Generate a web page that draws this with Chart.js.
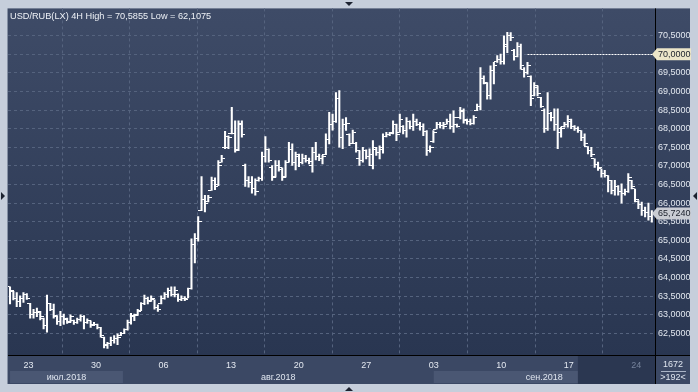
<!DOCTYPE html>
<html><head><meta charset="utf-8">
<script src="https://cdn.jsdelivr.net/npm/chart.js@4.4.1/dist/chart.umd.min.js"></script>
<style>html,body{margin:0;padding:0;background:#c6cedb;overflow:hidden}canvas{display:block}</style>
</head><body>
<canvas id="c" width="698" height="392"></canvas>
<script>
// ---- data: USD/RUB(LX) 4H bars (open, high, low, close) ----
const opens = [63.75,63.62,63.45,63.35,63.45,63.55,63.31,63.00,63.05,63.05,62.90,62.70,63.30,63.15,62.95,62.82,62.95,62.88,62.82,62.86,62.78,62.88,62.95,62.80,62.84,62.74,62.75,62.65,62.40,62.18,62.22,62.30,62.35,62.45,62.50,62.60,62.80,62.95,63.00,63.12,63.30,63.45,63.38,63.40,63.20,63.30,63.45,63.55,63.65,63.55,63.55,63.40,63.44,63.45,63.70,64.90,65.05,65.80,66.10,66.05,66.35,66.60,66.50,67.10,67.50,67.50,67.86,67.88,67.45,68.15,67.00,66.60,66.55,66.40,66.60,66.65,67.25,67.45,66.95,66.72,67.00,66.90,66.72,67.10,67.45,67.10,67.25,67.10,67.20,67.15,67.00,67.35,67.25,67.20,67.30,67.70,68.10,68.20,68.80,67.75,68.10,67.85,67.60,67.60,67.20,67.15,67.40,67.25,67.00,67.45,67.35,67.45,67.80,67.85,67.90,68.10,67.90,68.05,67.95,68.20,68.05,68.20,68.12,68.05,67.92,67.40,67.65,67.99,68.10,68.08,68.12,68.20,68.05,68.10,68.30,68.45,68.22,68.18,68.15,68.50,68.60,69.35,69.22,68.90,69.55,69.80,69.85,69.80,70.20,70.50,70.10,69.95,70.20,69.60,69.50,69.40,68.90,69.10,68.84,68.50,68.00,68.40,68.30,68.10,67.90,68.05,68.10,68.20,68.05,68.00,67.95,67.75,67.52,67.40,67.19,67.05,66.92,66.80,66.74,66.60,66.35,66.45,66.30,66.25,66.30,66.60,66.38,66.05,65.95,65.80,65.75,65.65];
const highs = [63.75,63.63,63.60,63.51,63.60,63.57,63.31,63.15,63.18,63.09,62.91,63.53,63.31,63.29,62.98,63.09,63.02,62.91,63.00,62.86,62.91,63.00,62.98,62.89,62.84,62.80,62.75,62.66,62.40,62.26,62.40,62.44,62.49,62.53,62.62,62.86,63.04,63.02,63.15,63.33,63.53,63.47,63.51,63.40,63.27,63.51,63.60,63.72,63.75,63.75,63.56,63.51,63.49,63.72,65.04,65.18,65.64,66.71,66.21,66.21,66.70,66.68,67.14,67.28,67.93,67.81,68.57,68.21,68.21,68.21,67.05,66.71,66.71,66.65,66.70,67.37,67.79,67.46,67.01,67.14,67.14,66.95,67.14,67.63,67.59,67.37,67.32,67.32,67.28,67.21,67.50,67.63,67.32,67.28,67.86,68.44,68.39,68.97,69.02,68.26,68.30,67.86,67.96,67.63,67.41,67.50,67.43,67.46,67.68,67.50,67.54,67.86,67.90,67.90,68.21,68.12,68.39,68.08,68.30,68.21,68.39,68.26,68.17,68.13,67.95,67.54,67.95,68.17,68.17,68.17,68.26,68.39,68.48,68.12,68.57,68.53,68.26,68.26,68.35,68.66,69.64,69.42,69.24,69.69,69.78,69.96,70.00,70.49,70.59,70.58,70.13,70.31,70.27,69.64,69.78,69.42,69.24,69.15,68.84,68.53,68.97,68.44,68.53,68.53,68.04,68.17,68.35,68.26,68.08,68.05,67.95,67.86,67.52,67.50,67.19,67.10,66.92,66.88,66.74,66.61,66.61,66.47,66.52,66.38,66.79,66.61,66.38,66.07,66.03,65.89,66.00,65.80];
const lows = [63.29,63.40,63.22,63.22,63.33,63.41,62.91,62.91,62.95,62.86,62.62,62.53,63.11,62.91,62.74,62.71,62.74,62.77,62.80,62.74,62.77,62.83,62.62,62.77,62.66,62.71,62.62,62.40,62.11,62.10,62.17,62.24,62.20,62.44,62.49,62.59,62.75,62.84,62.98,63.11,63.27,63.29,63.36,63.15,63.09,63.29,63.42,63.47,63.51,63.48,63.36,63.38,63.38,63.45,63.69,64.39,64.98,65.80,65.76,66.03,66.34,66.36,66.47,67.10,67.46,67.46,67.86,67.37,67.41,67.77,66.45,66.43,66.27,66.21,66.59,66.61,67.10,67.10,66.61,66.70,66.86,66.61,66.70,67.10,67.01,66.89,66.98,67.05,67.10,67.05,66.83,67.16,67.14,67.05,67.30,67.59,67.96,68.17,67.50,67.46,67.95,67.54,67.60,67.37,67.01,67.10,67.19,67.01,66.92,67.28,67.19,67.34,67.78,67.81,67.86,67.68,67.90,67.86,67.77,67.99,67.95,68.08,67.96,67.81,67.28,67.37,67.63,67.99,68.02,67.99,68.12,67.99,67.90,68.04,68.26,68.15,68.12,68.10,68.12,68.48,68.50,69.20,68.79,68.79,69.20,69.78,69.73,69.73,70.04,70.36,69.84,69.93,69.60,69.38,69.46,68.62,68.88,68.88,68.57,67.90,67.95,68.21,67.95,67.46,67.77,68.04,68.04,68.00,67.95,67.90,67.68,67.54,67.32,67.25,66.96,66.88,66.70,66.70,66.30,66.25,66.21,66.21,66.00,66.21,66.29,66.38,66.03,65.85,65.67,65.63,65.54,65.49];
const closes = [63.65,63.45,63.35,63.45,63.55,63.45,63.00,63.05,63.10,62.95,62.70,63.30,63.15,62.98,62.82,62.95,62.90,62.80,62.95,62.78,62.88,62.95,62.80,62.85,62.72,62.75,62.65,62.45,62.20,62.22,62.30,62.35,62.40,62.50,62.60,62.80,62.98,62.98,63.10,63.30,63.45,63.35,63.45,63.20,63.15,63.45,63.55,63.65,63.55,63.65,63.40,63.45,63.42,63.70,64.90,65.05,65.50,66.10,66.00,66.15,66.60,66.45,67.00,67.20,67.80,67.75,67.88,67.40,68.10,67.85,66.60,66.55,66.40,66.30,66.65,67.25,67.45,67.15,66.70,67.00,66.95,66.70,67.10,67.45,67.10,67.30,67.10,67.20,67.15,67.12,67.35,67.25,67.20,67.25,67.70,68.10,68.20,68.80,67.75,68.10,68.15,67.60,67.90,67.40,67.15,67.40,67.25,67.30,67.50,67.35,67.50,67.80,67.85,67.88,68.10,67.85,68.25,67.95,68.20,68.05,68.20,68.12,68.05,67.92,67.40,67.50,67.90,68.10,68.08,68.05,68.20,68.05,68.30,68.06,68.50,68.25,68.18,68.15,68.30,68.60,69.35,69.25,68.90,69.55,69.70,69.85,69.80,70.25,70.50,70.45,69.95,70.20,69.70,69.50,69.70,68.80,69.15,68.95,68.60,68.00,68.40,68.30,68.10,68.00,68.00,68.10,68.25,68.05,68.00,67.95,67.75,67.60,67.40,67.30,67.05,66.95,66.80,66.75,66.60,66.35,66.45,66.30,66.25,66.30,66.70,66.45,66.10,65.95,65.80,65.75,65.65,65.724];

const weekLabels = ["23","30","06","13","20","27","03","10","17","24"];
const weekStarts = [5.5,25.6,45.7,65.8,85.9,106,126.1,146.2,166.3,186.4];
const monthLabels = ["июл.2018","авг.2018","сен.2018"];
const monthStarts = [0,33.6,126.1,192];
const priceTicks = [62.5,63,63.5,64,64.5,65,65.5,66,66.5,67,67.5,68,68.5,69,69.5,70,70.5];
const titleText = "USD/RUB(LX) 4H High = 70,5855 Low = 62,1075";
const alertLevel = 70.0, alertFrom = 154;
const lastPrice = 65.724;
const barCountText = "1672", visibleText = ">192<";
const fadedFrom = 169;

// ---- derived datasets ----
const idx = highs.map((_, i) => i);
const hlData = idx.map(i => ({x: i, y: [lows[i], highs[i]]}));
const openData = idx.map(i => ({x: i, y: opens[i]}));
const closeData = idx.map(i => ({x: i, y: closes[i]}));

function tickImg(left) {
  const c = document.createElement('canvas'); c.width = 7; c.height = 1;
  const g = c.getContext('2d'); g.fillStyle = '#ffffff';
  g.fillRect(left ? 0 : 4, 0, 3, 1);
  return c;
}
const fmt = v => v.toFixed(4).replace('.', ',');
const FONT = '"Liberation Sans", Arial, sans-serif';

const decor = {
  id: 'decor',
  beforeDraw(chart) {
    const {ctx, chartArea: a, scales: {x}} = chart;
    ctx.save();
    ctx.fillStyle = '#c6cedb'; ctx.fillRect(0, 0, 698, 392);
    const g = ctx.createLinearGradient(0, a.top, 0, a.bottom);
    g.addColorStop(0, '#3e4b67'); g.addColorStop(1, '#293651');
    ctx.fillStyle = g; ctx.fillRect(8, a.top, 682, a.bottom - a.top);
    ctx.fillStyle = '#3b4864'; ctx.fillRect(8, a.bottom, 682, 29);
    // month bands
    const bandTop = a.bottom + 16, bandH = 12;
    ctx.fillStyle = '#4a5773';
    [0, 2].forEach(m => {
      const x0 = x.getPixelForValue(monthStarts[m]);
      const x1 = Math.min(a.right, x.getPixelForValue(monthStarts[m + 1]));
      ctx.fillRect(x0, bandTop, x1 - x0, bandH);
    });
    ctx.fillStyle = '#2b3751';
    const fx = x.getPixelForValue(fadedFrom);
    ctx.fillRect(fx, a.bottom + 1, a.right - fx, 28);
    ctx.fillStyle = '#dfe5ef'; ctx.font = '9px ' + FONT;
    ctx.textAlign = 'center'; ctx.textBaseline = 'middle';
    monthLabels.forEach((t, m) => {
      const x0 = x.getPixelForValue(monthStarts[m]);
      const x1 = Math.min(a.right, x.getPixelForValue(monthStarts[m + 1]));
      ctx.fillText(t, (x0 + x1) / 2, bandTop + bandH / 2 + 0.5);
    });
    ctx.fillText(barCountText, 673, a.bottom + 9.5);
    ctx.fillText(visibleText, 673, a.bottom + 22.5);
    ctx.strokeStyle = '#aab4c6'; ctx.lineWidth = 1;
    ctx.beginPath(); ctx.moveTo(661, a.bottom + 16.5); ctx.lineTo(686, a.bottom + 16.5); ctx.stroke();
    ctx.restore();
  },
  afterDraw(chart) {
    const {ctx, chartArea: a, scales: {x, y}} = chart;
    ctx.save();
    ctx.strokeStyle = '#000'; ctx.lineWidth = 1;
    ctx.beginPath();
    ctx.moveTo(a.right + 0.5, a.top); ctx.lineTo(a.right + 0.5, a.bottom + 29);
    ctx.moveTo(8, a.bottom + 0.5); ctx.lineTo(690, a.bottom + 0.5);
    ctx.stroke();
    ctx.strokeStyle = '#8590a4';
    ctx.beginPath(); ctx.moveTo(7.5, a.top); ctx.lineTo(7.5, a.bottom + 29); ctx.stroke();
    // title
    ctx.fillStyle = '#eef1f6'; ctx.font = '9.2px ' + FONT;
    ctx.textAlign = 'left'; ctx.textBaseline = 'middle';
    ctx.fillText(titleText, 10, a.top + 8);
    // alert level
    const ay = Math.round(y.getPixelForValue(alertLevel)) + 0.5;
    ctx.strokeStyle = '#ffffff'; ctx.setLineDash([2, 1]);
    ctx.beginPath(); ctx.moveTo(x.getPixelForValue(alertFrom), ay); ctx.lineTo(a.right, ay); ctx.stroke();
    ctx.setLineDash([]);
    const tag = (val, bg) => {
      const py = y.getPixelForValue(val);
      ctx.fillStyle = bg;
      ctx.beginPath();
      ctx.moveTo(a.right - 3, py); ctx.lineTo(a.right + 2, py - 6); ctx.lineTo(a.right + 36, py - 6);
      ctx.lineTo(a.right + 36, py + 6); ctx.lineTo(a.right + 2, py + 6); ctx.closePath(); ctx.fill();
      ctx.fillStyle = '#1a1f2a'; ctx.font = '9px ' + FONT;
      ctx.textAlign = 'left'; ctx.textBaseline = 'middle';
      ctx.fillText(fmt(val), a.right + 3, py + 0.5);
    };
    tag(alertLevel, '#ece6c9');
    tag(lastPrice, '#c9ccd3');
    // frame arrows
    ctx.fillStyle = '#1c2230';
    const tri = (pts) => { ctx.beginPath(); ctx.moveTo(pts[0], pts[1]); ctx.lineTo(pts[2], pts[3]); ctx.lineTo(pts[4], pts[5]); ctx.closePath(); ctx.fill(); };
    tri([345, 2, 353, 2, 349, 6]);
    tri([345, 391, 353, 391, 349, 387]);
    tri([1, 192, 1, 200, 5, 196]);
    tri([697, 192, 697, 200, 693, 196]);
    ctx.restore();
  }
};

new Chart(document.getElementById('c'), {
  type: 'bar',
  data: {
    datasets: [
      {type: 'bar', data: hlData, backgroundColor: '#ffffff', barThickness: 1.4, borderWidth: 0, order: 3},
      {type: 'scatter', data: openData, pointStyle: tickImg(true), pointRadius: 2, order: 1},
      {type: 'scatter', data: closeData, pointStyle: tickImg(false), pointRadius: 2, order: 2}
    ]
  },
  options: {
    responsive: false, animation: false, devicePixelRatio: 1,
    layout: {padding: {left: 8, top: 7, right: 8, bottom: 8}},
    plugins: {legend: {display: false}, tooltip: {enabled: false}, title: {display: false}},
    scales: {
      x: {
        type: 'linear', min: -0.6, max: 191.95, offset: false,
        afterBuildTicks: s => { s.ticks = weekStarts.map(v => ({value: v})); },
        afterFit: s => { s.height = 29; },
        ticks: {
          autoSkip: false, maxRotation: 0, padding: 5,
          font: {family: FONT, size: 9},
          color: c => c.index === weekLabels.length - 1 ? '#76839c' : '#e3e8f0',
          callback: (v, i) => weekLabels[i]
        },
        grid: {color: '#55637e', lineWidth: 1, drawTicks: false},
        border: {display: false, dash: [3, 3]}
      },
      y: {
        type: 'linear', position: 'right', min: 61.92, max: 71.23,
        afterBuildTicks: s => { s.ticks = priceTicks.map(v => ({value: v})); },
        afterFit: s => { s.width = 35; },
        ticks: {padding: 3, font: {family: FONT, size: 9}, color: '#e3e8f0', callback: v => fmt(v)},
        grid: {color: '#55637e', lineWidth: 1, drawTicks: false},
        border: {display: false, dash: [3, 3]}
      }
    }
  },
  plugins: [decor]
});
</script>
</body></html>
